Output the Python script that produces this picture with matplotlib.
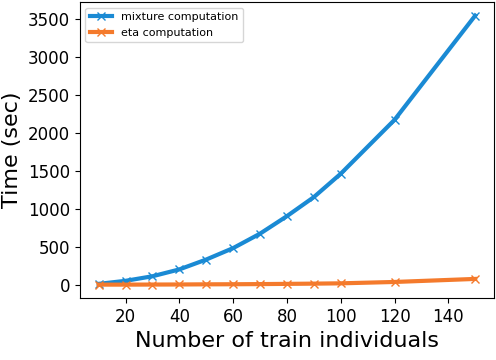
import matplotlib
matplotlib.use("Agg")
import matplotlib.pyplot as plt

# pocet jedincu v trenovaci mnozine
n_train = [10, 20, 30, 40, 50, 60, 70, 80, 90, 100, 120, 150]
mixture_time = [15, 55, 115, 205, 335, 485, 675, 905, 1155, 1462, 2170, 3540]
eta_time = [5, 5, 6, 7, 9, 10, 12, 15, 18, 22, 40, 80]

fig = plt.figure(figsize=(4.96, 3.6), dpi=100)
ax = fig.add_axes([0.161, 0.172, 0.835, 0.822])

ax.plot(n_train, mixture_time, color='#1a8ad4', marker='x', linewidth=3,
        markersize=6, label='mixture computation')
ax.plot(n_train, eta_time, color='#f47a2c', marker='x', linewidth=3,
        markersize=6, label='eta computation')

ax.set_xlabel('Number of train individuals', fontsize=16)
ax.set_ylabel('Time (sec)', fontsize=16)
ax.set_xticks([20, 40, 60, 80, 100, 120, 140])
ax.set_yticks([0, 500, 1000, 1500, 2000, 2500, 3000, 3500])
ax.tick_params(labelsize=12)
ax.legend(loc='upper left', fontsize=8)

fig.savefig('out.png', dpi=100)
